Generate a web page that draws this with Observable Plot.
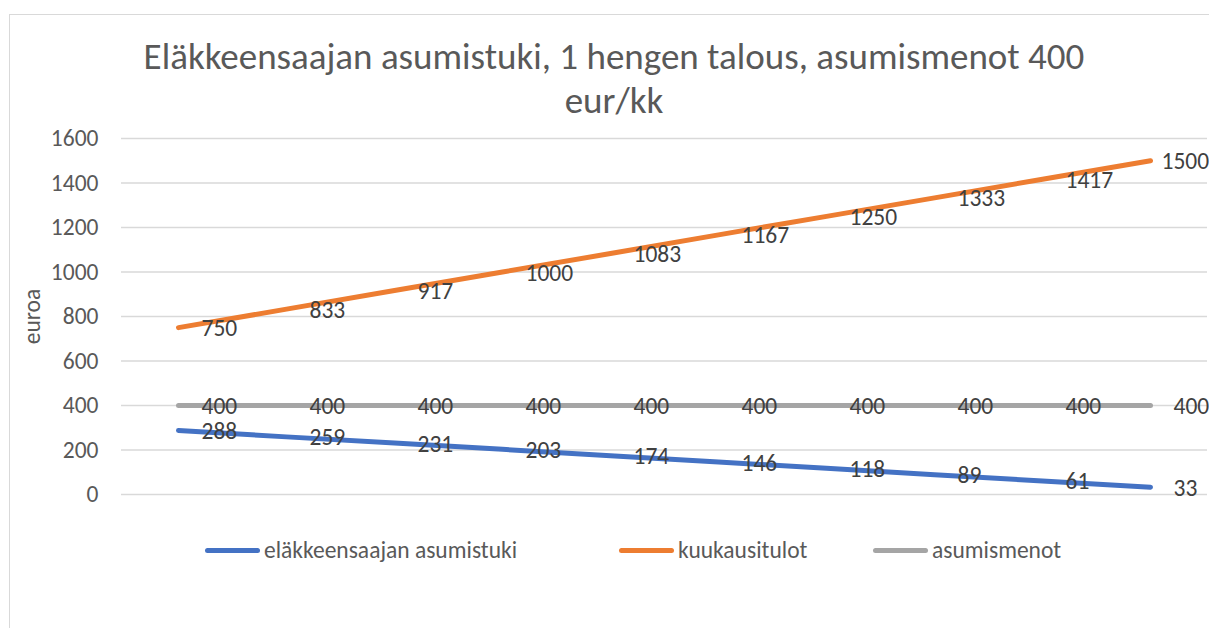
<!DOCTYPE html>
<html>
<head>
<meta charset="utf-8">
<script src="https://cdn.jsdelivr.net/npm/d3@7"></script>
<script src="https://cdn.jsdelivr.net/npm/@observablehq/plot@0.6"></script>
<style>
  body { margin: 0; background: #fff; font-family: Carlito, Lato, sans-serif; }
  #wrap { position: relative; width: 1209px; height: 628px; overflow: hidden; }
  #frame { position: absolute; left: 9px; top: 14px; width: 1230px; height: 640px; border: 1.5px solid #d9d9d9; box-sizing: border-box; }
  #chart { position: absolute; left: 0; top: 0; }
  #title { position: absolute; left: 10px; width: 1208px; top: 35px; text-align: center; color: #595959; font-size: 37px; line-height: 44px; }
  .leg { position: absolute; top: 536px; display: flex; align-items: center; color: #595959; font-size: 23.5px; height: 28px; }
  .sw { width: 55px; height: 5px; border-radius: 3px; margin-right: 4px; }
</style>
</head>
<body>
<div id="wrap">
  <div id="frame"></div>
  <div id="chart"></div>
  <div id="title"></div>
  <div id="legend"></div>
</div>
<script>
const title = ["Eläkkeensaajan asumistuki, 1 hengen talous, asumismenot 400", "eur/kk"];
const yLabel = "euroa";
const points = [1, 2, 3, 4, 5, 6, 7, 8, 9, 10];
const seriesNames = ["eläkkeensaajan asumistuki", "kuukausitulot", "asumismenot"];
const asumistuki = [288, 259, 231, 203, 174, 146, 118, 89, 61, 33];
const kuukausitulot = [750, 833, 917, 1000, 1083, 1167, 1250, 1333, 1417, 1500];
const asumismenot = [400, 400, 400, 400, 400, 400, 400, 400, 400, 400];
const yTicks = [0, 200, 400, 600, 800, 1000, 1200, 1400, 1600];
const colors = ["#4472C4", "#ED7D31", "#A5A5A5"];

const seriesValues = [asumistuki, kuukausitulot, asumismenot];
const data = [];
seriesNames.forEach((s, k) => points.forEach((p, j) => data.push({series: s, i: p, value: seriesValues[k][j]})));

const lastPoint = points[points.length - 1];
const isClamped = d => d.i === lastPoint && String(d.value).length > 3;

const chart = Plot.plot({
  width: 1209,
  height: 628,
  marginLeft: 121,
  marginRight: 2,
  marginTop: 138,
  marginBottom: 134,
  style: {fontFamily: "Carlito, Lato, sans-serif", background: "transparent", overflow: "visible"},
  x: {type: "point", domain: points, padding: 0.5, axis: null},
  y: {domain: [0, 1600], ticks: yTicks},
  color: {domain: seriesNames, range: colors},
  marks: [
    Plot.gridY(yTicks, {stroke: "#d9d9d9", strokeOpacity: 1, strokeWidth: 1.5}),
    Plot.axisY(yTicks, {
      tickSize: 0, tickPadding: 23, fontSize: 23.5, color: "#595959", tickFormat: d => String(d),
      label: yLabel, labelAnchor: "center", labelArrow: "none", labelOffset: 98
    }),
    Plot.line(data, {x: "i", y: "value", z: "series", stroke: "series", strokeWidth: 5, strokeLinecap: "round", strokeLinejoin: "round"}),
    Plot.text(data.filter(d => !isClamped(d)), {x: "i", y: "value", text: d => String(d.value), textAnchor: "start", dx: 23, dy: 1, fill: "#404040", fontSize: 23.5}),
    Plot.text(data.filter(isClamped), {x: "i", y: "value", text: d => String(d.value), textAnchor: "start", dx: 11, dy: 1, fill: "#404040", fontSize: 23.5})
  ]
});
document.getElementById("chart").appendChild(chart);

document.getElementById("title").innerHTML = title.join("<br>");

const legendLeft = [205, 619, 873];
const legend = document.getElementById("legend");
seriesNames.forEach((s, k) => {
  const item = document.createElement("div");
  item.className = "leg";
  item.style.left = legendLeft[k] + "px";
  const sw = document.createElement("div");
  sw.className = "sw";
  sw.style.background = colors[k];
  const t = document.createElement("span");
  t.textContent = s;
  item.appendChild(sw);
  item.appendChild(t);
  legend.appendChild(item);
});
</script>
</body>
</html>
